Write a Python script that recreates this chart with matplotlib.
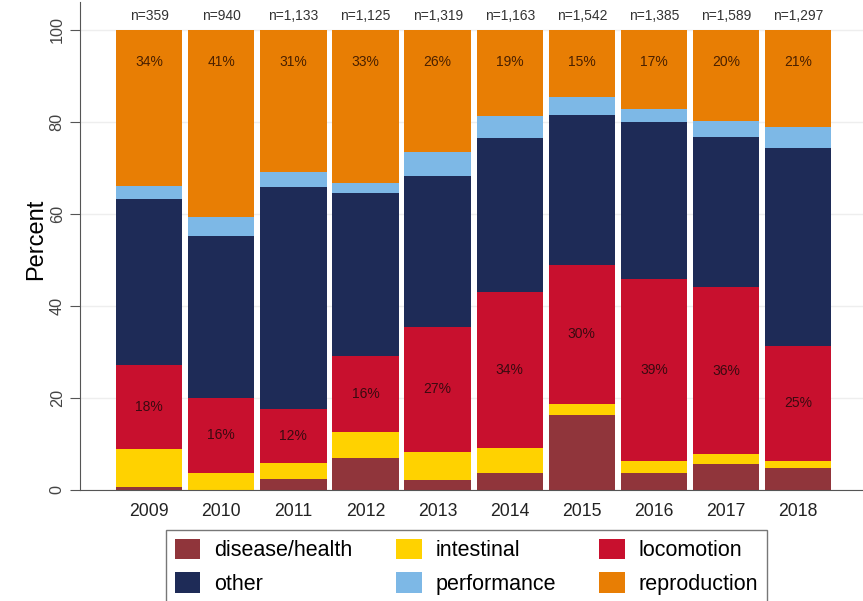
import matplotlib
matplotlib.use("Agg")
import matplotlib.pyplot as plt
from matplotlib.patches import Patch
import numpy as np

plt.rcParams['font.family'] = ['Liberation Sans', 'DejaVu Sans']

years = [2009, 2010, 2011, 2012, 2013, 2014, 2015, 2016, 2017, 2018]
n_labels = ['n=359', 'n=940', 'n=1,133', 'n=1,125', 'n=1,319',
            'n=1,163', 'n=1,542', 'n=1,385', 'n=1,589', 'n=1,297']

# percent shares per year
disease = [0.6, 0.0, 2.4, 6.9, 2.2, 3.8, 16.2, 3.8, 5.7, 4.7]
intestinal = [8.3, 3.8, 3.5, 5.8, 6.1, 5.4, 2.5, 2.5, 2.1, 1.6]
locomotion = [18.3, 16.1, 11.6, 16.3, 27.1, 33.8, 30.2, 39.6, 36.2, 25.0]
other = [36.0, 35.3, 48.4, 35.6, 32.7, 33.4, 32.5, 34.0, 32.6, 43.0]
performance = [2.9, 4.1, 3.2, 2.1, 5.4, 4.8, 4.0, 2.9, 3.5, 4.5]
reproduction = [33.9, 40.7, 30.9, 33.3, 26.5, 18.8, 14.6, 17.2, 19.9, 21.2]

loco_labels = ['18%', '16%', '12%', '16%', '27%', '34%', '30%', '39%', '36%', '25%']
repro_labels = ['34%', '41%', '31%', '33%', '26%', '19%', '15%', '17%', '20%', '21%']

series = [
    ('disease/health', disease, '#90353b'),
    ('intestinal', intestinal, '#ffd200'),
    ('locomotion', locomotion, '#c8102e'),
    ('other', other, '#1e2b57'),
    ('performance', performance, '#7db8e6'),
    ('reproduction', reproduction, '#e87e04'),
]

fig = plt.figure(figsize=(8.63, 6.01), dpi=100)
ax = fig.add_axes([80 / 863, 111 / 601, 1 - 80 / 863, 488 / 601])

x = np.array(years)
bottom = np.zeros(len(years))
bottoms = {}
for name, vals, col in series:
    vals = np.array(vals)
    ax.bar(x, vals, bottom=bottom, width=0.92, color=col, linewidth=0, zorder=2)
    bottoms[name] = bottom.copy()
    bottom = bottom + vals

# percentage labels
for i in range(len(years)):
    mid = bottoms['locomotion'][i] + locomotion[i] / 2
    ax.text(x[i], mid, loco_labels[i], ha='center', va='center', fontsize=10, color='#3a0a10', zorder=3)
    ax.text(x[i], 93, repro_labels[i], ha='center', va='center', fontsize=10, color='#4a2000', zorder=3)
    ax.text(x[i], 103, n_labels[i], ha='center', va='center', fontsize=10, color='#333333', zorder=3)

ax.set_xlim(2009 - 0.96, 2018 + 0.9)
ax.set_ylim(0, 106)
ax.set_xticks(years)
ax.set_xticklabels([str(y) for y in years], fontsize=12.7, color='#222222')
ax.set_yticks([0, 20, 40, 60, 80, 100])
ax.set_yticklabels(['0', '20', '40', '60', '80', '100'], fontsize=11.7, rotation=90, va='center', color='#444444')
ax.set_ylabel('Percent', fontsize=17)
ax.yaxis.set_label_coords(-0.0414, 0.513)
ax.tick_params(axis='x', length=0, pad=9)
ax.tick_params(axis='y', length=7, color='#555555', pad=4)
ax.grid(axis='y', color='#eeeeee', linewidth=1, zorder=0)
ax.set_axisbelow(True)
for s in ['top', 'right']:
    ax.spines[s].set_visible(False)
for s in ['left', 'bottom']:
    ax.spines[s].set_color('#555555')

handles = [Patch(facecolor=col, label=name) for name, vals, col in series]
order = [0, 3, 1, 4, 2, 5]
leg = fig.legend([handles[k] for k in order], [series[k][0] for k in order],
                 loc='upper left', bbox_to_anchor=(166 / 863, 1 - 530 / 601),
                 ncol=3, fontsize=15.5, frameon=True, fancybox=False,
                 edgecolor='#555555', handlelength=1.2, handleheight=1.1,
                 handletextpad=0.65, columnspacing=2.0, labelspacing=0.5,
                 borderpad=0.4, borderaxespad=0)
leg.get_frame().set_linewidth(1)

fig.savefig('out.png', dpi=100)
